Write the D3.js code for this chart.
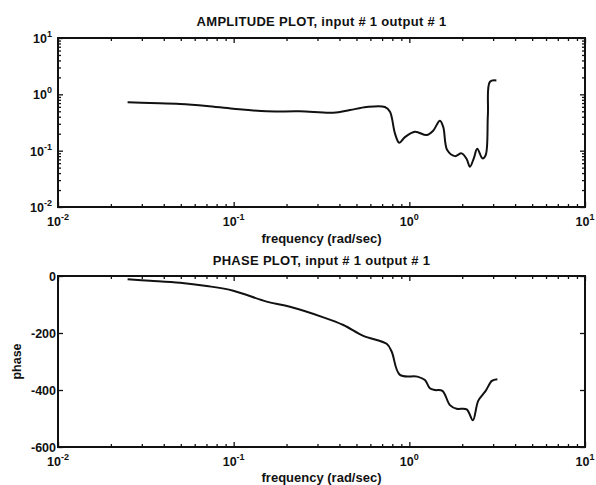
<!DOCTYPE html>
<html>
<head>
<meta charset="utf-8">
<script src="https://cdn.jsdelivr.net/npm/d3@7"></script>
<style>
  html, body { margin: 0; padding: 0; background: #fff; }
  svg { display: block; }
  text { font-family: "Liberation Sans", Arial, Helvetica, sans-serif; fill: #111; font-weight: bold; }
</style>
</head>
<body>
<svg id="chart" width="596" height="485"></svg>
<script>
// ---- data ----
const ampFreq   = [0.0249, 0.0334, 0.0495, 0.0702, 0.0995, 0.154, 0.238, 0.369, 0.459, 0.571, 0.726, 0.776, 0.828, 0.876, 0.944, 1.076, 1.254, 1.362, 1.493, 1.56, 1.643, 1.817, 1.985, 2.12, 2.213, 2.33, 2.435, 2.61, 2.72, 2.80, 2.877, 3.13];
const ampValues = [0.721, 0.70, 0.673, 0.62, 0.555, 0.499, 0.499, 0.471, 0.526, 0.595, 0.595, 0.491, 0.203, 0.138, 0.174, 0.217, 0.189, 0.223, 0.340, 0.262, 0.1025, 0.080, 0.0895, 0.071, 0.0518, 0.074, 0.108, 0.073, 0.0835, 0.429, 1.675, 1.76];
const phaseFreq   = [0.0249, 0.0334, 0.0495, 0.0702, 0.0995, 0.154, 0.209, 0.324, 0.421, 0.547, 0.743, 0.793, 0.884, 1.112, 1.227, 1.31, 1.399, 1.543, 1.703, 1.859, 2.12, 2.30, 2.466, 2.72, 2.95, 3.17];
const phaseValues = [-11.7, -16.4, -23.4, -35, -51.5, -90, -108, -145, -172, -210, -238, -265, -347, -353, -365, -394, -400, -403, -453, -466, -468, -506, -438, -403, -368, -362];
const xMajorTicks = [0.01, 0.1, 1, 10];
const xMajorExps  = ["-2", "-1", "0", "1"];
const ampMajorTicks = [0.01, 0.1, 1, 10];
const ampMajorExps  = ["-2", "-1", "0", "1"];
const phaseTicks = [0, -200, -400, -600];
const titles = ["AMPLITUDE PLOT, input # 1 output # 1", "PHASE PLOT, input # 1 output # 1"];
const xLabel = "frequency (rad/sec)";
const phaseLabel = "phase";

// ---- layout ----
const svg = d3.select("#chart");
const L = 58, R = 585;
const top1 = 38, bot1 = 207;
const top2 = 276, bot2 = 447;
const FS = 13;

const x = d3.scaleLog().domain([0.01, 10]).range([L, R]);
const yAmp = d3.scaleLog().domain([0.01, 10]).range([bot1, top1]);
const yPh = d3.scaleLinear().domain([-600, 0]).range([bot2, top2]);

function minorLog(lo, hi) {
  const out = [];
  for (let e = Math.log10(lo); e < Math.log10(hi); e++) {
    for (let m = 2; m <= 9; m++) out.push(m * Math.pow(10, e));
  }
  return out;
}
const xMinor = minorLog(0.01, 10);
const yMinor = minorLog(0.01, 10);

function drawAxesFrame(g, top, bot, yScale, yMajors, yMinors) {
  const st = (sel) => sel.call(s => s.select(".domain").remove())
    .call(s => s.selectAll("line").attr("stroke", "#111").attr("stroke-width", 1.3));
  g.append("g").attr("transform", `translate(0,${bot})`)
    .call(d3.axisBottom(x).tickValues(xMajorTicks).tickSize(-5).tickFormat("")).call(st);
  g.append("g").attr("transform", `translate(0,${top})`)
    .call(d3.axisTop(x).tickValues(xMajorTicks).tickSize(-5).tickFormat("")).call(st);
  g.append("g").attr("transform", `translate(0,${bot})`)
    .call(d3.axisBottom(x).tickValues(xMinor).tickSize(-3).tickFormat("")).call(st);
  g.append("g").attr("transform", `translate(0,${top})`)
    .call(d3.axisTop(x).tickValues(xMinor).tickSize(-3).tickFormat("")).call(st);
  g.append("g").attr("transform", `translate(${L},0)`)
    .call(d3.axisLeft(yScale).tickValues(yMajors).tickSize(-5).tickFormat("")).call(st);
  g.append("g").attr("transform", `translate(${R},0)`)
    .call(d3.axisRight(yScale).tickValues(yMajors).tickSize(-5).tickFormat("")).call(st);
  if (yMinors) {
    g.append("g").attr("transform", `translate(${L},0)`)
      .call(d3.axisLeft(yScale).tickValues(yMinors).tickSize(-3).tickFormat("")).call(st);
    g.append("g").attr("transform", `translate(${R},0)`)
      .call(d3.axisRight(yScale).tickValues(yMinors).tickSize(-3).tickFormat("")).call(st);
  }
  g.append("rect").attr("x", L).attr("y", top).attr("width", R - L).attr("height", bot - top)
    .attr("fill", "none").attr("stroke", "#111").attr("stroke-width", 2);
}

function powLabel(g, px, py, exp, anchor) {
  const t = g.append("text").attr("x", px).attr("y", py).attr("text-anchor", anchor)
    .attr("font-size", 12.5);
  t.append("tspan").text("10");
  t.append("tspan").attr("dy", -6).attr("font-size", 9).text(exp);
}

// ---- amplitude plot ----
const g1 = svg.append("g");
drawAxesFrame(g1, top1, bot1, yAmp, ampMajorTicks, yMinor);
xMajorTicks.forEach((v, i) => powLabel(g1, x(v), bot1 + 19, xMajorExps[i], "middle"));
ampMajorTicks.forEach((v, i) => powLabel(g1, L - 6, yAmp(v) + 5, ampMajorExps[i], "end"));
g1.append("text").attr("x", (L + R) / 2).attr("y", 26).attr("text-anchor", "middle")
  .attr("font-size", FS).attr("letter-spacing", 0.3).text(titles[0]);
g1.append("text").attr("x", (L + R) / 2).attr("y", 243).attr("text-anchor", "middle")
  .attr("font-size", FS).text(xLabel);
const ampLine = d3.line().x((d, i) => x(ampFreq[i])).y(d => yAmp(d)).curve(d3.curveCatmullRom);
g1.append("path").attr("d", ampLine(ampValues)).attr("fill", "none")
  .attr("stroke", "#111").attr("stroke-width", 2);

// ---- phase plot ----
const g2 = svg.append("g");
drawAxesFrame(g2, top2, bot2, yPh, phaseTicks, null);
xMajorTicks.forEach((v, i) => powLabel(g2, x(v), bot2 + 19, xMajorExps[i], "middle"));
phaseTicks.forEach(v => g2.append("text").attr("x", L - 2).attr("y", yPh(v) + 5)
  .attr("text-anchor", "end").attr("font-size", 12.5).text(v));
g2.append("text").attr("x", (L + R) / 2).attr("y", 265).attr("text-anchor", "middle")
  .attr("font-size", FS).attr("letter-spacing", 0.3).text(titles[1]);
g2.append("text").attr("x", (L + R) / 2).attr("y", 482).attr("text-anchor", "middle")
  .attr("font-size", FS).text(xLabel);
g2.append("text").attr("transform", `translate(21,${(top2 + bot2) / 2}) rotate(-90)`)
  .attr("text-anchor", "middle").attr("font-size", 12.5).text(phaseLabel);
const phLine = d3.line().x((d, i) => x(phaseFreq[i])).y(d => yPh(d)).curve(d3.curveCatmullRom);
g2.append("path").attr("d", phLine(phaseValues)).attr("fill", "none")
  .attr("stroke", "#111").attr("stroke-width", 2);
</script>
</body>
</html>
